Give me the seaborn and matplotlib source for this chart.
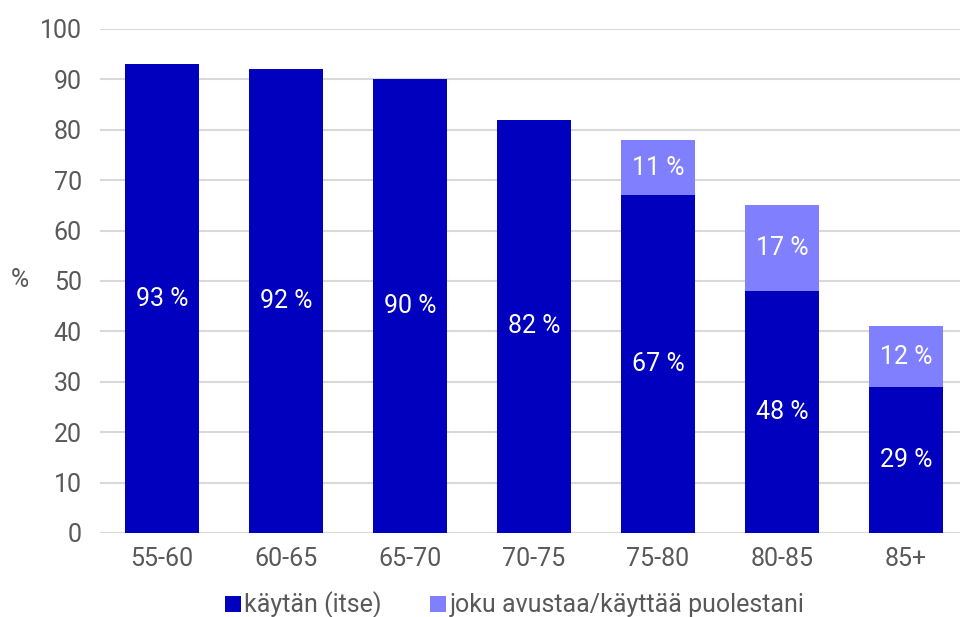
import matplotlib
matplotlib.use("Agg")
import matplotlib.pyplot as plt
from matplotlib.lines import Line2D
import seaborn as sns
import pandas as pd

# Age groups and shares (%)
age_groups = ["55-60", "60-65", "65-70", "70-75", "75-80", "80-85", "85+"]
self_use = [93, 92, 90, 82, 67, 48, 29]
assisted = [0, 0, 0, 0, 11, 17, 12]
series_names = ["käytän (itse)", "joku avustaa/käyttää puolestani"]

dark = "#0000BE"
light = "#8080FF"
text_color = "#595959"
grid_color = "#D9D9D9"
fs = 18

sns.set_theme(style="white")
plt.rcParams["font.family"] = ["Roboto", "DejaVu Sans"]

df = pd.DataFrame({"age": age_groups, "self": self_use, "assisted": assisted})
df["total"] = df["self"] + df["assisted"]

fig = plt.figure(figsize=(9.6, 6.17), dpi=100)
ax = fig.add_axes([100 / 960, 84 / 617, 1 - 100 / 960, (533 - 29) / 617])

# stacked bars: total height in light colour, own-use share drawn over it
sns.barplot(data=df, x="age", y="total", color=light, width=0.6,
            saturation=1, ax=ax, zorder=2, linewidth=0)
sns.barplot(data=df, x="age", y="self", color=dark, width=0.6,
            saturation=1, ax=ax, zorder=3, linewidth=0)

ax.set_ylim(0, 100)
ax.set_xlim(-0.5, 6.5 - 8 / 124)
ax.set_yticks(range(0, 101, 10))
ax.yaxis.grid(True, color=grid_color, linewidth=1.5, zorder=0)
ax.set_axisbelow(True)
for s in ax.spines.values():
    s.set_visible(False)
ax.tick_params(axis="both", length=0, labelsize=fs, colors=text_color)
ax.tick_params(axis="x", pad=10)
ax.tick_params(axis="y", pad=13)
ax.set_xlabel("")
ax.set_ylabel("")
fig.text(20 / 960, 1 - 280 / 617, "%", ha="center", va="center",
         fontsize=fs, color=text_color)

# value labels
for i, (s_val, a_val) in enumerate(zip(self_use, assisted)):
    ax.text(i, s_val / 2, f"{s_val} %", ha="center", va="center",
            color="white", fontsize=fs, zorder=5)
    if a_val:
        ax.text(i, s_val + a_val / 2, f"{a_val} %", ha="center", va="center",
                color="white", fontsize=fs, zorder=5)

handles = [Line2D([], [], marker="s", linestyle="", markersize=12,
                  markerfacecolor=c, markeredgewidth=0) for c in (dark, light)]
fig.legend(handles, series_names, loc="center", bbox_to_anchor=(513 / 960, 1 - 605 / 617),
           ncol=2, frameon=False, fontsize=fs, labelcolor=text_color,
           handletextpad=0.0, columnspacing=1.8, handlelength=0.9)

fig.savefig("out.png", dpi=100)
